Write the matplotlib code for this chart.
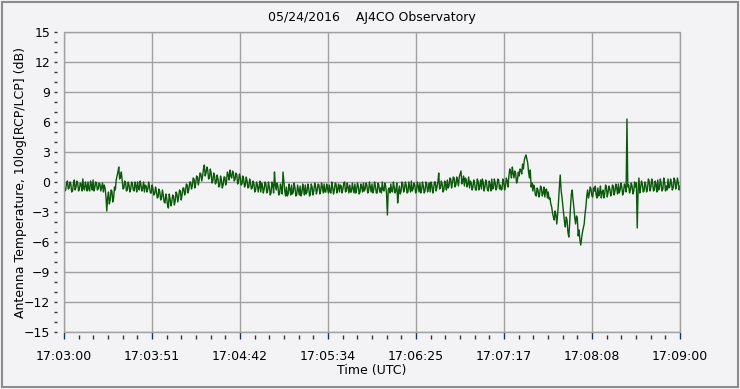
import matplotlib
matplotlib.use("Agg")
import matplotlib.pyplot as plt
from matplotlib.patches import Rectangle
from matplotlib.ticker import MultipleLocator, FixedLocator

TITLE = "05/24/2016    AJ4CO Observatory"
X_LABEL = "Time (UTC)"
Y_LABEL = "Antenna Temperature, 10log[RCP/LCP] (dB)"

# readings on the whole second (seconds after 17:03:00), 0 .. 360
db_whole = [
    -0.3, -0.8, 0.1, -0.6, -0.2, -0.9, 0.2, -0.5, -0.1, -0.7,
    -0.2, 0.3, -0.8, -0.4, 0.0, -0.9, -0.3, 0.2, -0.6, -0.1,
    -0.7, -0.2, -0.5, -1.0, -0.6, -2.9, -1.0, -1.8, -0.9, -1.6,
    -0.8, 0.6, 1.5, 0.5, 0.2, -0.6, -0.1, -0.8, -0.3, -0.7,
    -0.2, -0.9, -0.4, 0.0, -0.8, -0.3, -0.6, -1.0, -0.4, -0.7,
    -0.5, -1.1, -0.7, -1.2, -0.9, -1.5, -1.0, -1.6, -1.3, -2.1,
    -1.6, -2.6, -1.7, -2.0, -1.4, -1.9, -1.2, -1.5, -0.9, -1.3,
    -0.6, -1.0, -0.3, -0.7, 0.0, -0.4, 0.3, -0.1, 0.5, 0.2,
    0.8, 0.6, 1.7, 0.9, 1.2, 0.4, 0.9, 0.1, 0.6, 0.0,
    0.3, -0.4, 0.2, -0.3, 0.5, 0.1, 0.7, 1.2, 0.4, 0.9,
    0.3, 0.7, 0.0, 0.5, -0.2, 0.3, -0.3, 0.1, -0.5, -0.1,
    -0.6, -0.2, -0.8, -0.3, -0.5, -1.0, -0.4, -0.7, -0.2, -0.9,
    -0.5, -1.1, -0.3, 1.0, -0.8, -0.4, -1.2, -0.6, 1.0, -0.9,
    -0.5, -1.2, -0.7, -0.3, -1.0, -0.6, -1.3, -0.8, -0.4, -1.1,
    -0.7, -0.3, -1.0, -0.6, -1.2, -0.5, -0.9, -0.4, -0.8, -0.3,
    -0.9, -0.5, -0.2, -1.0, -0.6, -0.3, -1.1, -0.5, -0.8, -0.2,
    -0.7, -1.0, -0.4, -0.7, 0.0, -0.9, -0.5, -0.3, -1.0, -0.6,
    -0.2, -0.8, -0.4, -1.0, -0.5, -0.1, -0.7, -0.3, -0.9, -0.5,
    -0.2, -0.8, -0.4, -1.1, -0.3, -0.6, 0.0, -0.9, -0.4, -3.3,
    -0.6, -0.2, -1.0, -0.5, -0.8, -2.1, -0.4, -0.9, -0.2, -0.7,
    -0.3, -1.0, -0.5, 0.1, -0.7, -0.3, -0.9, -0.4, -0.1, -0.8,
    -0.4, -0.9, -0.2, -0.6, -1.0, -0.3, -0.7, 0.0, -0.5, 0.9,
    -0.6, -0.2, -0.8, -0.3, 0.2, -0.4, 0.3, -0.1, 0.4, -0.3,
    0.2, 0.5, 1.1, 0.1, -0.4, 0.3, -0.2, -0.6, -0.1, -0.5,
    -0.2, -0.8, 0.1, -0.4, -0.7, 0.0, -0.5, -0.2, -0.9, -0.3,
    0.3, -0.6, -0.1, -0.5, 0.2, -0.3, -0.7, 0.0, -0.4, 0.1,
    0.6, 1.0, 1.5, 0.4, 0.8, 0.2, 0.6, 1.2, 1.8, 2.2,
    2.7, 1.9, 0.4, -0.5, -0.9, -0.6, -1.4, -0.8, -1.2, -0.6,
    -1.1, -1.5, -0.7, -1.0, -1.6, -2.5, -3.5, -2.9, -4.2, -2.0,
    0.7, -1.5, -3.2, -4.5, -3.8, -5.5, -2.5, -0.8, -2.6, -4.2,
    -3.6, -4.8, -6.3, -5.0, -4.2, -2.5, -0.8, -1.2, -0.7, -1.5,
    -0.9, -1.3, -0.6, -1.1, -1.6, -0.8, -1.2, -0.5, -1.0, -0.7,
    -1.1, -0.4, -0.9, -0.6, -0.2, -0.8, -0.5, -1.0, -0.4, 6.3,
    -0.3, -0.8, -0.4, -0.9, -0.5, -4.6, 0.4, -0.6, -0.2, -0.9,
    -0.3, -0.7, 0.1, -0.5, -0.1, -0.8, -0.3, 0.2, -0.6, -0.2,
    -0.7, 0.0, -0.4, 0.3, -0.5, -0.1, -0.6, 0.2, -0.3, -0.1, -0.4,
]

# readings on the half second, 0.5 .. 359.5
db_half = [
    -0.9, -0.1, -0.7, 0.0, -1.0, -0.2, -0.8, 0.1, -0.9, -0.1,
    -0.9, -0.6, 0.0, -0.9, -0.7, 0.1, -0.8, -0.9, 0.0, -0.8,
    -0.1, -0.9, -0.1, -0.3, -1.4, -1.6, -2.2, -0.8, -2.0, -0.5,
    0.2, 1.0, 0.3, 1.0, -0.7, 0.1, -0.9, 0.0, -1.0, 0.0,
    -0.8, 0.0, -1.0, -0.6, 0.1, -0.9, 0.0, -0.3, -1.0, 0.0,
    -1.1, -0.3, -1.3, -0.5, -1.6, -0.7, -1.8, -0.8, -2.0, -1.2,
    -2.3, -1.2, -2.4, -1.3, -2.3, -1.0, -2.0, -0.8, -1.8, -0.6,
    -1.3, -0.2, -1.1, 0.0, -0.7, 0.4, -0.6, 0.6, -0.3, 0.9,
    0.1, 1.3, 0.6, 1.5, 0.3, 1.3, -0.1, 0.9, -0.2, 0.7,
    -0.5, 0.6, -0.6, 0.5, -0.3, 1.0, 0.2, 0.6, 1.1, 0.1,
    0.9, -0.2, 0.8, -0.3, 0.6, -0.5, 0.5, -0.6, 0.3, -0.7,
    0.1, -1.0, 0.0, -1.0, 0.1, -0.1, -1.1, 0.0, -1.1, 0.0,
    -1.3, 0.0, -1.1, -0.3, -0.1, -1.3, -0.2, -1.2, 0.1, -1.4,
    -1.4, -0.2, -1.3, -1.2, -0.1, -1.4, -0.3, -1.3, -1.4, -0.2,
    -1.3, -1.2, -0.2, -1.4, -0.2, -1.3, -0.1, -1.2, -0.2, -1.2,
    -0.1, -1.1, -1.0, -0.2, -1.1, -1.0, 0.0, -1.2, -0.1, -1.1,
    -0.2, -0.3, -1.1, -0.1, -1.0, -0.1, -1.1, -1.0, -0.1, -1.1,
    -1.1, -0.1, -1.2, -0.2, -1.0, -0.9, -0.1, -1.1, 0.0, -1.0,
    -1.1, 0.0, -1.1, -0.1, -1.0, -1.1, -0.8, -0.1, -1.2, -0.8,
    -1.1, -0.9, 0.0, -1.1, -0.1, -1.0, -1.2, 0.0, -1.0, 0.0,
    -1.1, 0.0, -1.0, -0.9, -0.1, -1.1, 0.0, -1.0, -1.1, 0.0,
    -1.1, 0.0, -1.0, -0.1, 0.0, -1.1, 0.0, -0.9, 0.0, -0.7,
    0.1, -1.0, 0.1, -0.8, -0.6, 0.4, -0.6, 0.5, -0.5, 0.5,
    -0.4, 0.8, -0.2, 0.6, 0.4, -0.5, 0.5, 0.1, -0.8, 0.2,
    -0.8, 0.3, -0.8, 0.2, 0.3, -0.9, 0.2, -0.8, 0.1, -0.9,
    -0.7, 0.3, -0.8, 0.3, -0.7, -0.8, 0.3, -0.8, 0.4, -0.5,
    1.3, 0.4, 0.9, 1.1, -0.1, 1.0, 1.3, 0.8, 1.3, 2.5,
    2.3, 1.0, 1.2, -0.1, -0.3, -1.3, -0.6, -1.5, -0.4, -1.4,
    -0.5, -0.8, -1.6, -1.7, -2.2, -3.1, -3.8, -3.3, -3.2, -0.5,
    -0.8, -2.3, -4.0, -3.5, -5.0, -4.2, -1.2, -1.8, -3.6, -3.4,
    -5.4, -5.8, -5.6, -4.6, -3.2, -1.4, -1.6, -0.5, -1.4, -0.6,
    -0.4, -1.6, -1.4, -0.4, -1.0, -1.6, -0.3, -1.5, -0.4, -1.4,
    -0.3, -1.3, -0.2, -1.2, -1.1, -0.1, -1.3, -0.2, -1.0, -0.5,
    -1.1, -0.1, -1.2, 0.0, -0.1, -0.9, -1.1, 0.1, -1.0, 0.0,
    -1.0, 0.3, -0.9, 0.3, -0.9, 0.1, -1.0, -0.8, 0.3, -0.9,
    0.4, -0.9, -0.8, -0.6, 0.3, -0.8, 0.4, -0.7, 0.4, -0.8,
]

x_tick_pos = [0, 360 / 7, 720 / 7, 1080 / 7, 1440 / 7, 1800 / 7, 2160 / 7, 360]
x_tick_labels = ["17:03:00", "17:03:51", "17:04:42", "17:05:34",
                 "17:06:25", "17:07:17", "17:08:08", "17:09:00"]

# put the two sets of readings in time order
seconds = []
ratio_db = []
for i, v in enumerate(db_whole):
    seconds.append(i)
    ratio_db.append(v)
    if i < len(db_half):
        seconds.append(i + 0.5)
        ratio_db.append(db_half[i])

BG = "#f3f3f5"
GRID = "#a0a0a0"

fig = plt.figure(figsize=(7.4, 3.89), dpi=100, facecolor=BG)
fig.patches.append(Rectangle((0.003, 0.005), 0.994, 0.99, transform=fig.transFigure,
                             fill=False, edgecolor="#8c8c8c", linewidth=1.5))
ax = fig.add_axes([64 / 740, 57 / 389, 616 / 740, 300 / 389], facecolor=BG)

ax.plot(seconds, ratio_db, color="#0a5a0a", linewidth=1.0)

ax.set_xlim(0, 360)
ax.set_ylim(-15, 15)
ax.xaxis.set_major_locator(FixedLocator(x_tick_pos))
ax.xaxis.set_minor_locator(MultipleLocator(360 / 42))
ax.set_xticklabels(x_tick_labels)
ax.yaxis.set_major_locator(MultipleLocator(3))
ax.yaxis.set_minor_locator(MultipleLocator(1))

ax.grid(True, which="major", color=GRID, linewidth=1)
for s in ax.spines.values():
    s.set_visible(False)
ax.spines["left"].set_position(("outward", 5))
ax.spines["bottom"].set_position(("outward", 5))
ax.add_patch(Rectangle((0, 0), 1, 1, transform=ax.transAxes, fill=False,
                       edgecolor=GRID, linewidth=1, clip_on=False, zorder=3))

ax.tick_params(axis="x", which="major", length=5, width=1, color="#1a3560",
               direction="in", labelsize=9, pad=8)
ax.tick_params(axis="x", which="minor", length=3, width=1, color="#333333",
               direction="in")
ax.tick_params(axis="y", which="major", length=2, width=1, color="#333333",
               labelsize=9, pad=3)
ax.tick_params(axis="y", which="minor", length=2, width=1, color="#333333")

ax.set_xlabel(X_LABEL, fontsize=9, labelpad=1)
ax.set_ylabel(Y_LABEL, fontsize=9, labelpad=-2)
ax.set_title(TITLE, fontsize=9, pad=8)

fig.savefig("out.png", dpi=100, facecolor=BG)
